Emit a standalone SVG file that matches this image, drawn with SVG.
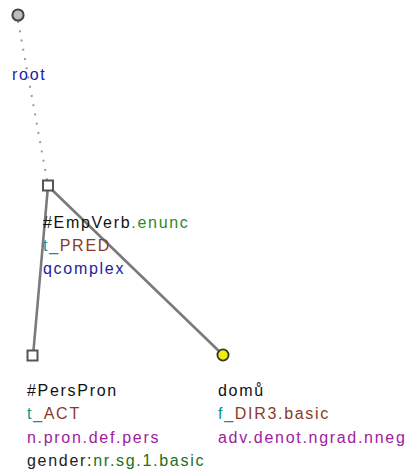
<svg xmlns="http://www.w3.org/2000/svg" width="407" height="476" viewBox="0 0 407 476">
<style>
text{font-family:"Liberation Sans",Arial,sans-serif;font-size:16px;letter-spacing:1.7px;fill:#111}
.edge{stroke:#7a7a7a;stroke-width:2.6;fill:none;stroke-linecap:round}
.dot{stroke:#9a9a9a;stroke-width:2;fill:none;stroke-dasharray:2 7.4}
.sq{fill:#fff;stroke:#555;stroke-width:2}
.blue{fill:#1c1ca0}
.green{fill:#2a8a2a}
.teal{fill:#109090}
.brown{fill:#8b3a2a}
.purple{fill:#a020a0}
.dgreen{fill:#207020}
.dark{fill:#222}
</style>
<rect width="407" height="476" fill="#fff"/>
<g id="connectors">
<line class="dot" x1="18" y1="21" x2="47" y2="180"/>
<line class="edge" x1="48" y1="186" x2="33" y2="356"/>
<line class="edge" x1="48" y1="186" x2="223" y2="355"/>
</g>
<g id="root">
<circle cx="18" cy="15" r="5.6" fill="#bdbdbd" stroke="#444" stroke-width="2"/>
<text x="12" y="80" class="blue">root</text>
</g>
<g id="empverb">
<rect class="sq" x="43" y="180.5" width="10" height="10"/>
<text x="43" y="228">#EmpVerb<tspan class="green">.enunc</tspan></text>
<text x="43" y="251"><tspan class="teal">t_</tspan><tspan class="brown">PRED</tspan></text>
<text x="43" y="274" class="blue">qcomplex</text>
</g>
<g id="perspron">
<rect class="sq" x="27.5" y="350.5" width="10" height="10"/>
<text x="27" y="396">#PersPron</text>
<text x="27" y="419"><tspan class="teal">t_</tspan><tspan class="brown">ACT</tspan></text>
<text x="27" y="443" class="purple">n.pron.def.pers</text>
<text x="27" y="466"><tspan class="dark">gender:</tspan><tspan class="dgreen">nr.sg.1.basic</tspan></text>
</g>
<g id="domu">
<circle cx="223" cy="355" r="5.6" fill="#f0f000" stroke="#333" stroke-width="1.8"/>
<text x="218" y="396">domů</text>
<text x="218" y="419"><tspan class="teal">f_</tspan><tspan class="brown">DIR3.basic</tspan></text>
<text x="218" y="443" class="purple">adv.denot.ngrad.nneg</text>
</g>
</svg>
